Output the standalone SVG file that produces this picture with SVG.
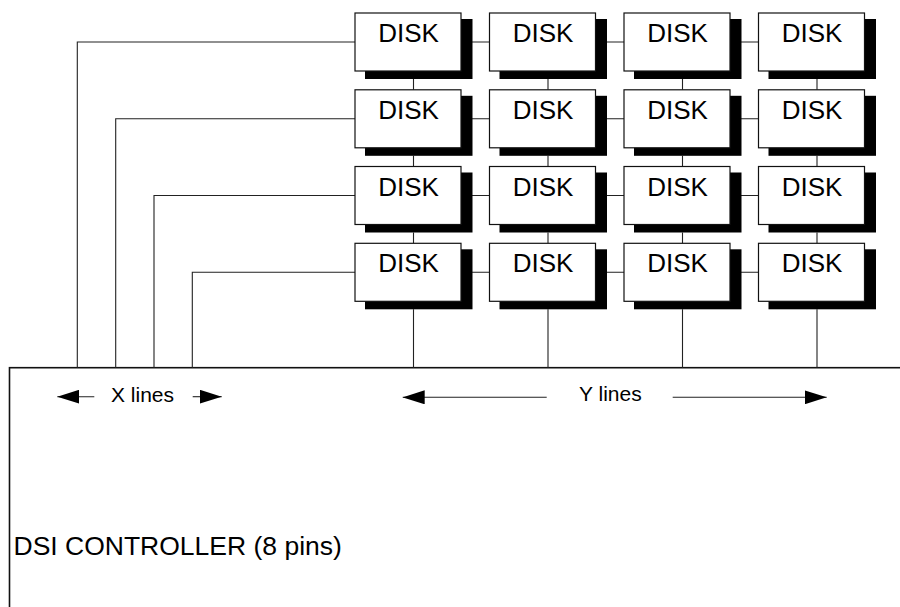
<svg xmlns="http://www.w3.org/2000/svg" width="900" height="607" viewBox="0 0 900 607">
<style>
.shadow{fill:#000}
.box{fill:#fff;stroke:#111;stroke-width:1.2}
.lbl{font-family:"Liberation Sans",Arial,sans-serif;font-size:26px;fill:#000;text-anchor:middle}
.wire{stroke:#222;stroke-width:1.1;fill:none}
.axis{stroke:#222;stroke-width:1.1;fill:none}
.small{font-family:"Liberation Sans",Arial,sans-serif;font-size:21px;fill:#000}
.ctrl{fill:#fff;stroke:#111;stroke-width:1.6}
</style>
<defs>
<marker id="ah" markerUnits="userSpaceOnUse" markerWidth="22" markerHeight="14" refX="22" refY="7" orient="auto-start-reverse">
<path d="M0,0 L22,7 L0,14 z" fill="#000"/>
</marker>
<g id="diskShape">
<rect class="shadow" x="10" y="6" width="107.5" height="60"/>
<rect class="box" x="0" y="0" width="106" height="58"/>
<text class="lbl" x="53.5" y="29">DISK</text>
</g>
</defs>

<g id="controller">
<rect class="ctrl" x="9.5" y="367.7" width="910" height="260"/>
<text x="13.5" y="555" font-family="'Liberation Sans',Arial,sans-serif" font-size="26.5" fill="#000">DSI CONTROLLER (8 pins)</text>
</g>

<g id="connectors">
<path class="wire" d="M77.3,367.7 V42 H355"/>
<path class="wire" d="M115.7,367.7 V118.8 H355"/>
<path class="wire" d="M154,367.7 V195.5 H355"/>
<path class="wire" d="M192.3,367.7 V272.3 H355"/>
<path class="wire" d="M461,42 H489.5 M595.5,42 H624 M730,42 H758.5"/>
<path class="wire" d="M461,118.8 H489.5 M595.5,118.8 H624 M730,118.8 H758.5"/>
<path class="wire" d="M461,195.5 H489.5 M595.5,195.5 H624 M730,195.5 H758.5"/>
<path class="wire" d="M461,272.3 H489.5 M595.5,272.3 H624 M730,272.3 H758.5"/>
<path class="wire" d="M413.5,79 V89.8 M413.5,155.8 V166.5 M413.5,232.5 V243.3 M413.5,309.3 V367.7"/>
<path class="wire" d="M548,79 V89.8 M548,155.8 V166.5 M548,232.5 V243.3 M548,309.3 V367.7"/>
<path class="wire" d="M682.5,79 V89.8 M682.5,155.8 V166.5 M682.5,232.5 V243.3 M682.5,309.3 V367.7"/>
<path class="wire" d="M817,79 V89.8 M817,155.8 V166.5 M817,232.5 V243.3 M817,309.3 V367.7"/>
</g>

<g id="disk-r1c1"><use href="#diskShape" x="355" y="13"/></g>
<g id="disk-r1c2"><use href="#diskShape" x="489.5" y="13"/></g>
<g id="disk-r1c3"><use href="#diskShape" x="624" y="13"/></g>
<g id="disk-r1c4"><use href="#diskShape" x="758.5" y="13"/></g>
<g id="disk-r2c1"><use href="#diskShape" x="355" y="89.8"/></g>
<g id="disk-r2c2"><use href="#diskShape" x="489.5" y="89.8"/></g>
<g id="disk-r2c3"><use href="#diskShape" x="624" y="89.8"/></g>
<g id="disk-r2c4"><use href="#diskShape" x="758.5" y="89.8"/></g>
<g id="disk-r3c1"><use href="#diskShape" x="355" y="166.5"/></g>
<g id="disk-r3c2"><use href="#diskShape" x="489.5" y="166.5"/></g>
<g id="disk-r3c3"><use href="#diskShape" x="624" y="166.5"/></g>
<g id="disk-r3c4"><use href="#diskShape" x="758.5" y="166.5"/></g>
<g id="disk-r4c1"><use href="#diskShape" x="355" y="243.3"/></g>
<g id="disk-r4c2"><use href="#diskShape" x="489.5" y="243.3"/></g>
<g id="disk-r4c3"><use href="#diskShape" x="624" y="243.3"/></g>
<g id="disk-r4c4"><use href="#diskShape" x="758.5" y="243.3"/></g>

<g id="x-lines-label">
<path class="axis" d="M94.3,396.7 H57.3" marker-end="url(#ah)"/>
<text class="small" x="111" y="401.5">X lines</text>
<path class="axis" d="M192.7,396.7 H221.7" marker-end="url(#ah)"/>
</g>
<g id="y-lines-label">
<path class="axis" d="M546.7,397.3 H402.7" marker-end="url(#ah)"/>
<text class="small" x="579" y="401">Y lines</text>
<path class="axis" d="M672.7,397.3 H826.7" marker-end="url(#ah)"/>
</g>
</svg>
